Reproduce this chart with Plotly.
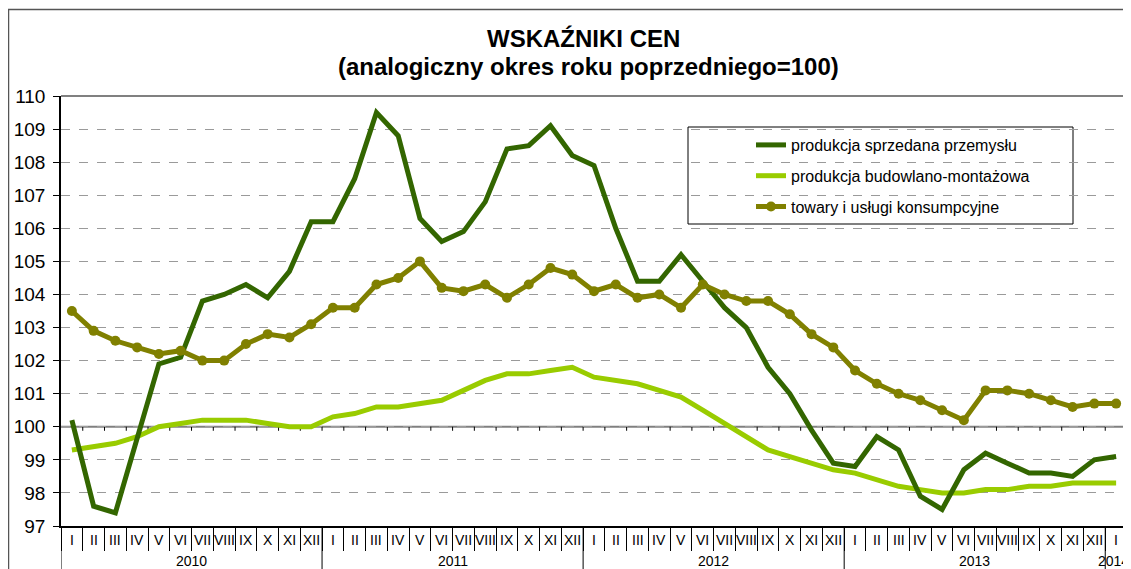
import plotly.graph_objects as go

months = ["I", "II", "III", "IV", "V", "VI", "VII", "VIII", "IX", "X", "XI", "XII"]
years = ["2010", "2011", "2012", "2013", "2014"]
month_labels = months * 4 + ["I"]

produkcja_przemyslu = [
    100.2, 97.6, 97.4, 99.7, 101.9, 102.1, 103.8, 104.0, 104.3, 103.9, 104.7, 106.2,
    106.2, 107.5, 109.5, 108.8, 106.3, 105.6, 105.9, 106.8, 108.4, 108.5, 109.1, 108.2,
    107.9, 106.0, 104.4, 104.4, 105.2, 104.4, 103.6, 103.0, 101.8, 101.0, 99.9, 98.9,
    98.8, 99.7, 99.3, 97.9, 97.5, 98.7, 99.2, 98.9, 98.6, 98.6, 98.5, 99.0,
    99.1,
]
produkcja_budowlana = [
    99.3, 99.4, 99.5, 99.7, 100.0, 100.1, 100.2, 100.2, 100.2, 100.1, 100.0, 100.0,
    100.3, 100.4, 100.6, 100.6, 100.7, 100.8, 101.1, 101.4, 101.6, 101.6, 101.7, 101.8,
    101.5, 101.4, 101.3, 101.1, 100.9, 100.5, 100.1, 99.7, 99.3, 99.1, 98.9, 98.7,
    98.6, 98.4, 98.2, 98.1, 98.0, 98.0, 98.1, 98.1, 98.2, 98.2, 98.3, 98.3,
    98.3,
]
towary_uslugi = [
    103.5, 102.9, 102.6, 102.4, 102.2, 102.3, 102.0, 102.0, 102.5, 102.8, 102.7, 103.1,
    103.6, 103.6, 104.3, 104.5, 105.0, 104.2, 104.1, 104.3, 103.9, 104.3, 104.8, 104.6,
    104.1, 104.3, 103.9, 104.0, 103.6, 104.3, 104.0, 103.8, 103.8, 103.4, 102.8, 102.4,
    101.7, 101.3, 101.0, 100.8, 100.5, 100.2, 101.1, 101.1, 101.0, 100.8, 100.6, 100.7,
    100.7,
]
y_ticks = list(range(97, 111))

names = ["produkcja sprzedana przemysłu", "produkcja budowlano-montażowa",
         "towary i usługi konsumpcyjne"]
colors = ["#336600", "#99CC00", "#808000"]

x = list(range(len(month_labels)))
FONT = "Liberation Sans, Arial, sans-serif"

fig = go.Figure()
fig.add_trace(go.Scatter(x=x, y=produkcja_budowlana, mode="lines", name=names[1],
                         line=dict(color=colors[1], width=5), legendrank=2,
                         legendgroup="b"))
fig.add_trace(go.Scatter(x=x, y=produkcja_przemyslu, mode="lines", name=names[0],
                         line=dict(color=colors[0], width=5), legendrank=1,
                         legendgroup="a"))
fig.add_trace(go.Scatter(x=x, y=towary_uslugi, mode="lines+markers", name=names[2],
                         line=dict(color=colors[2], width=5),
                         marker=dict(color=colors[2], size=10, symbol="circle"),
                         legendrank=3, legendgroup="c"))

n = len(month_labels)
# page body has an 8px margin: the figure starts at (8, 8) in the screenshot
OFF = 8
W, H = 1131 - OFF, 569 - OFF
L, R, T, B = 61, 1127, 96, 526   # plot area in screenshot pixels
ph = B - T
pw = R - L

def py(pix):
    return (B - pix) / ph

def px(pix):
    return (pix - L) / pw

shapes = []
# outer frame
shapes.append(dict(type="rect", xref="paper", yref="paper",
                   x0=px(8.5), x1=px(1140), y0=py(580), y1=py(9.5),
                   line=dict(color="#555555", width=1.5), layer="below"))
# plot top and right borders
shapes.append(dict(type="line", xref="paper", yref="paper", x0=0, x1=1, y0=1, y1=1,
                   line=dict(color="#808080", width=2)))
shapes.append(dict(type="line", xref="paper", yref="paper", x0=1, x1=1, y0=1, y1=0,
                   line=dict(color="#808080", width=2)))
# 100 line with tick marks
shapes.append(dict(type="line", xref="paper", yref="y", x0=0, x1=1, y0=100, y1=100,
                   line=dict(color="#808080", width=2), layer="below"))
for k in range(1, n):
    shapes.append(dict(type="line", xref="x", yref="y", x0=k - 0.5, x1=k - 0.5,
                       y0=100, y1=100 - 4 / 33.1,
                       line=dict(color="#000000", width=1), layer="below"))
# year separators
for b in [0, 12, 24, 36, 48, 49]:
    shapes.append(dict(type="line", xref="x", yref="paper", x0=b - 0.5, x1=b - 0.5,
                       y0=0, y1=py(575), line=dict(color="#000000", width=1)))
# legend box
shapes.append(dict(type="rect", xref="paper", yref="paper",
                   x0=px(688), x1=px(1073), y0=py(224), y1=py(127),
                   line=dict(color="#000000", width=1), fillcolor="white", layer="below"))

annotations = []
for i, lab in enumerate(month_labels):
    annotations.append(dict(x=i, y=py(540), xref="x", yref="paper", text=lab,
                            showarrow=False, font=dict(size=14, family=FONT, color="black"),
                            xanchor="center", yanchor="middle"))
year_pos = [5.5, 17.5, 29.5, 41.5]
for yr, pos in zip(years[:4], year_pos):
    annotations.append(dict(x=pos, y=py(561), xref="x", yref="paper", text=yr,
                            showarrow=False, font=dict(size=14, family=FONT, color="black"),
                            xanchor="center", yanchor="middle"))
annotations.append(dict(x=px(1131), y=py(561), xref="paper", yref="paper", text=years[4],
                        showarrow=False, font=dict(size=14, family=FONT, color="black"),
                        xanchor="right", yanchor="middle"))
annotations.append(dict(x=px(583), y=py(38), xref="paper", yref="paper",
                        text="<b>WSKAŹNIKI CEN</b>", showarrow=False,
                        font=dict(size=24, family=FONT, color="black"),
                        xanchor="center", yanchor="middle"))
annotations.append(dict(x=px(588), y=py(67), xref="paper", yref="paper",
                        text="<b>(analogiczny okres roku poprzedniego=100)</b>", showarrow=False,
                        font=dict(size=24, family=FONT, color="black"),
                        xanchor="center", yanchor="middle"))

fig.update_layout(
    width=W, height=H, autosize=False,
    margin=dict(l=L - OFF, r=W - (R - OFF), t=T - OFF, b=H - (B - OFF), pad=0),
    paper_bgcolor="white", plot_bgcolor="white",
    font=dict(family=FONT, color="black"),
    showlegend=True,
    legend=dict(x=px(751), y=py(128), xanchor="left", yanchor="top",
                bgcolor="rgba(0,0,0,0)", borderwidth=0,
                font=dict(size=16, family=FONT, color="black"),
                traceorder="grouped", tracegroupgap=7),
    xaxis=dict(range=[-0.5, n - 0.5], showgrid=False, zeroline=False,
               showline=True, linecolor="black", linewidth=1.5,
               tickmode="array", tickvals=[k - 0.5 for k in range(n + 1)],
               ticks="outside", ticklen=23, tickcolor="black", tickwidth=1,
               showticklabels=False),
    yaxis=dict(range=[97, 110], tickmode="array", tickvals=y_ticks,
               showgrid=True, gridcolor="#9a9a9a", griddash="dash", gridwidth=1,
               zeroline=False, showline=True, linecolor="black", linewidth=1.5,
               ticks="outside", ticklen=6, tickcolor="black", ticklabelstandoff=4,
               tickfont=dict(size=19, family=FONT, color="black")),
    shapes=shapes, annotations=annotations,
)

fig.write_html("out.html")
